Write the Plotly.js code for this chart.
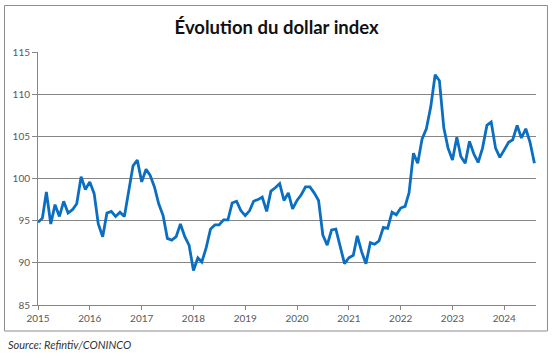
<!DOCTYPE html>
<html>
<head>
<meta charset="utf-8">
<script src="https://cdn.plot.ly/plotly-3.0.1.min.js"></script>
<style>
  html, body { margin: 0; padding: 0; background: #fff; }
  #chart { width: 560px; height: 359px; }
</style>
</head>
<body>
<div id="chart"></div>
<script>
// Monthly dollar index values, Jan 2015 – Aug 2024
const years = [2015, 2016, 2017, 2018, 2019, 2020, 2021, 2022, 2023, 2024];
const v2015 = [94.8, 95.3, 98.4, 94.6, 96.9, 95.5, 97.3, 95.9, 96.3, 97.0, 100.2, 98.7];
const v2016 = [99.6, 98.2, 94.6, 93.1, 95.9, 96.1, 95.5, 96.0, 95.5, 98.5, 101.5, 102.2];
const v2017 = [99.6, 101.1, 100.4, 99.0, 97.0, 95.6, 92.9, 92.7, 93.1, 94.6, 93.1, 92.1];
const v2018 = [89.1, 90.6, 90.1, 91.8, 94.0, 94.5, 94.5, 95.1, 95.1, 97.1, 97.3, 96.2];
const v2019 = [95.6, 96.2, 97.3, 97.5, 97.8, 96.1, 98.5, 98.9, 99.4, 97.4, 98.3, 96.4];
const v2020 = [97.4, 98.1, 99.0, 99.0, 98.3, 97.4, 93.3, 92.1, 93.9, 94.0, 91.9, 89.9];
const v2021 = [90.6, 90.9, 93.2, 91.3, 89.9, 92.4, 92.2, 92.6, 94.2, 94.1, 96.0, 95.7];
const v2022 = [96.5, 96.7, 98.3, 103.0, 101.8, 104.7, 105.9, 108.5, 112.3, 111.6, 106.0, 103.6];
const v2023 = [102.2, 104.9, 102.6, 101.8, 104.4, 102.9, 101.9, 103.6, 106.3, 106.7, 103.6, 102.5];
const v2024 = [103.4, 104.3, 104.6, 106.3, 104.8, 105.9, 104.3, 101.8];
const yearValues = [v2015, v2016, v2017, v2018, v2019, v2020, v2021, v2022, v2023, v2024];

const tickYears = years.map(y => y + '-01-01');
const tickLabels = years.map(y => String(y));
const yTicks = [85, 90, 95, 100, 105, 110, 115];

const dates = [];
const values = [];
yearValues.forEach((arr, i) => {
  arr.forEach((val, m) => {
    dates.push(years[i] + '-' + String(m + 1).padStart(2, '0') + '-01');
    values.push(val);
  });
});

const trace = {
  x: dates,
  y: values,
  type: 'scatter',
  mode: 'lines',
  line: { color: '#0a6fc2', width: 2.8 },
  hoverinfo: 'x+y'
};

const layout = {
  width: 560,
  height: 359,
  margin: { l: 38, r: 24, t: 52, b: 54, pad: 0 },
  paper_bgcolor: '#ffffff',
  plot_bgcolor: '#ffffff',
  showlegend: false,
  font: { family: 'Lato, "Open Sans", sans-serif', color: '#595959', size: 10 },
  title: {
    text: 'Évolution du dollar index',
    font: { family: 'Lato, "Open Sans", sans-serif', size: 18.5, color: '#111111', weight: 'bold' },
    x: 0.494, xref: 'container', xanchor: 'center',
    y: 0.923, yref: 'container', yanchor: 'middle'
  },
  xaxis: {
    type: 'date',
    range: ['2015-01-01', '2024-08-12'],
    tickmode: 'array',
    tickvals: tickYears,
    ticktext: tickLabels,
    ticks: 'outside',
    ticklen: 4,
    tickcolor: '#868686',
    showgrid: false,
    showline: true,
    linecolor: '#868686',
    linewidth: 1,
    zeroline: false,
    tickfont: { size: 10, color: '#595959' }
  },
  yaxis: {
    range: [85, 115],
    tickmode: 'array',
    tickvals: yTicks,
    ticks: 'outside',
    ticklen: 5,
    tickcolor: '#868686',
    showgrid: true,
    gridcolor: '#868686',
    gridwidth: 1,
    showline: true,
    linecolor: '#868686',
    linewidth: 1,
    zeroline: false,
    tickfont: { size: 10, color: '#595959' }
  },
  shapes: [
    {
      type: 'rect', xref: 'paper', yref: 'paper',
      x0: -0.0673, x1: 1.023, y0: -0.1028, y1: 1.1838,
      line: { color: '#8c8c8c', width: 1 },
      fillcolor: 'rgba(0,0,0,0)',
      layer: 'below'
    }
  ],
  annotations: [
    {
      text: '<i>Source: Refintiv/CONINCO</i>',
      xref: 'paper', yref: 'paper',
      x: -0.0643, y: -0.156,
      xanchor: 'left', yanchor: 'middle',
      showarrow: false,
      font: { size: 11, color: '#333333', family: 'Lato, "Open Sans", sans-serif' }
    }
  ]
};

Plotly.newPlot('chart', [trace], layout, { displayModeBar: false, staticPlot: true });
</script>
</body>
</html>
